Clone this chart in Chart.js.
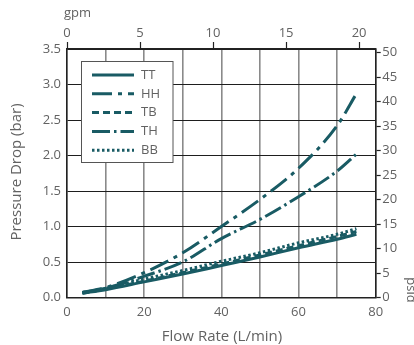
<!DOCTYPE html>
<html>
<head>
<meta charset="utf-8">
<script src="https://cdn.jsdelivr.net/npm/chart.js@4.4.1/dist/chart.umd.min.js"></script>
<style>
  html, body { margin: 0; padding: 0; background: #fff; }
  #wrap { width: 414px; height: 345px; position: relative; }
</style>
</head>
<body>
<div id="wrap"><canvas id="grafico"></canvas></div>
<script>
// Datos (caudal en L/min, caída de presión en bar)
const caudal = [4, 10, 20, 30, 40, 50, 60, 70, 75];
const serieTT = [0.06, 0.11, 0.22, 0.33, 0.45, 0.57, 0.70, 0.82, 0.89];
const serieHH = [0.07, 0.14, 0.35, 0.63, 1.00, 1.38, 1.82, 2.42, 2.87];
const serieTB = [0.06, 0.12, 0.23, 0.35, 0.47, 0.60, 0.73, 0.86, 0.93];
const serieTH = [0.07, 0.13, 0.30, 0.50, 0.83, 1.10, 1.42, 1.78, 2.02];
const serieBB = [0.07, 0.13, 0.26, 0.38, 0.51, 0.63, 0.77, 0.89, 0.97];

const ticksFlow = [0, 20, 40, 60, 80];
const ticksGpm = [0, 5, 10, 15, 20];
const ticksPsi = [0, 5, 10, 15, 20, 25, 30, 35, 40, 45, 50];

const LPM_POR_GPM = 3.785;
const PSI_POR_BAR = 14.5038;
const COLOR = "#195b64";
const TEXTO = "#626262";
const FUENTE = "'Open Sans', sans-serif";

const puntos = serie => caudal.map((x, i) => ({ x: x, y: serie[i] }));

function dataset(label, serie, dash) {
    return {
        label: label,
        data: puntos(serie),
        borderColor: COLOR,
        backgroundColor: COLOR,
        borderWidth: 3,
        borderDash: dash,
        borderCapStyle: "butt",
        pointRadius: 0,
        fill: false,
        cubicInterpolationMode: "monotone",
        xAxisID: "x",
        yAxisID: "y"
    };
}

// Fijar tamaños de los ejes para que el área del gráfico coincida
const fijarAncho = w => scale => { scale.width = w; };
const fijarAlto = h => scale => { scale.height = h; };

/* Leyenda y títulos de ejes dibujados a mano */
const extras = {
    id: "extras",
    afterDraw(chart) {
        const { ctx } = chart;
        ctx.save();
        ctx.fillStyle = TEXTO;
        ctx.textBaseline = "middle";

        ctx.font = "15px " + FUENTE;
        ctx.textAlign = "center";
        ctx.fillText("Flow Rate (L/min)", 222, 337);

        ctx.save();
        ctx.translate(17, 172);
        ctx.rotate(-Math.PI / 2);
        ctx.fillText("Pressure Drop (bar)", 0, 0);
        ctx.restore();

        ctx.font = "13px " + FUENTE;
        ctx.save();
        ctx.translate(411, 290);
        ctx.rotate(Math.PI / 2);
        ctx.fillText("psid", 0, 0);
        ctx.restore();

        ctx.textAlign = "left";
        ctx.fillText("gpm", 64, 13);

        // Caja de leyenda
        const bx = 81.5, by = 61.5, bw = 91.5, bh = 101;
        ctx.fillStyle = "#fff";
        ctx.fillRect(bx, by, bw, bh);
        ctx.strokeStyle = "#555";
        ctx.lineWidth = 1;
        ctx.strokeRect(bx, by, bw, bh);

        ctx.font = "13px " + FUENTE;
        chart.data.datasets.forEach((ds, i) => {
            const y = 75 + i * 18.8;
            ctx.beginPath();
            ctx.setLineDash(ds.borderDash || []);
            ctx.strokeStyle = COLOR;
            ctx.lineWidth = 3;
            ctx.moveTo(92, y);
            ctx.lineTo(134, y);
            ctx.stroke();
            ctx.setLineDash([]);
            ctx.fillStyle = TEXTO;
            ctx.fillText(ds.label, 141, y);
        });
        ctx.restore();
    }
};

const ctx = document.getElementById("grafico").getContext("2d");

new Chart(ctx, {
    type: "line",
    data: {
        datasets: [
            dataset("TT", serieTT, []),
            dataset("HH", serieHH, [20, 6, 4, 6]),
            dataset("TB", serieTB, [7, 4]),
            dataset("TH", serieTH, [18, 4, 2.5, 4]),
            dataset("BB", serieBB, [2.5, 2.5])
        ]
    },
    options: {
        responsive: true,
        maintainAspectRatio: false,
        animation: false,
        layout: { padding: 0 },
        plugins: {
            legend: { display: false },
            tooltip: { enabled: false }
        },
        scales: {
            x: {
                type: "linear",
                position: "bottom",
                min: 0,
                max: 80,
                afterFit: fijarAlto(47.5),
                ticks: {
                    stepSize: 10,
                    padding: 7,
                    color: TEXTO,
                    font: { family: FUENTE, size: 13 },
                    callback: v => ticksFlow.includes(v) ? String(v) : ""
                },
                grid: { color: "#8a8a8a", lineWidth: 1.6, drawTicks: false },
                border: { display: true, color: "#222", width: 1.5 }
            },
            x2: {
                type: "linear",
                position: "top",
                min: 0,
                max: 80 / LPM_POR_GPM,
                afterFit: fijarAlto(49),
                afterBuildTicks: scale => { scale.ticks = ticksGpm.map(v => ({ value: v })); },
                ticks: {
                    padding: 1,
                    color: TEXTO,
                    font: { family: FUENTE, size: 13 },
                    callback: v => String(v)
                },
                grid: { drawOnChartArea: false, drawTicks: true, tickLength: 7, tickColor: "#222", tickWidth: 1.2 },
                border: { display: true, color: "#222", width: 1.5 }
            },
            y: {
                position: "left",
                min: 0,
                max: 3.5,
                afterFit: fijarAncho(67),
                ticks: {
                    stepSize: 0.5,
                    padding: 6,
                    color: TEXTO,
                    font: { family: FUENTE, size: 13 },
                    callback: v => v.toFixed(1)
                },
                grid: { color: "#1e1e1e", lineWidth: 1, drawTicks: false },
                border: { display: true, color: "#222", width: 1.5 }
            },
            y2: {
                position: "right",
                min: 0,
                max: 3.5 * PSI_POR_BAR,
                afterFit: fijarAncho(38.3),
                afterBuildTicks: scale => { scale.ticks = ticksPsi.map(v => ({ value: v })); },
                ticks: {
                    padding: 1.5,
                    color: TEXTO,
                    font: { family: FUENTE, size: 13 },
                    callback: v => String(v)
                },
                grid: { drawOnChartArea: false, drawTicks: true, tickLength: 5, tickColor: "#222", tickWidth: 1.2 },
                border: { display: true, color: "#222", width: 1.5 }
            }
        }
    },
    plugins: [extras]
});
</script>
</body>
</html>
